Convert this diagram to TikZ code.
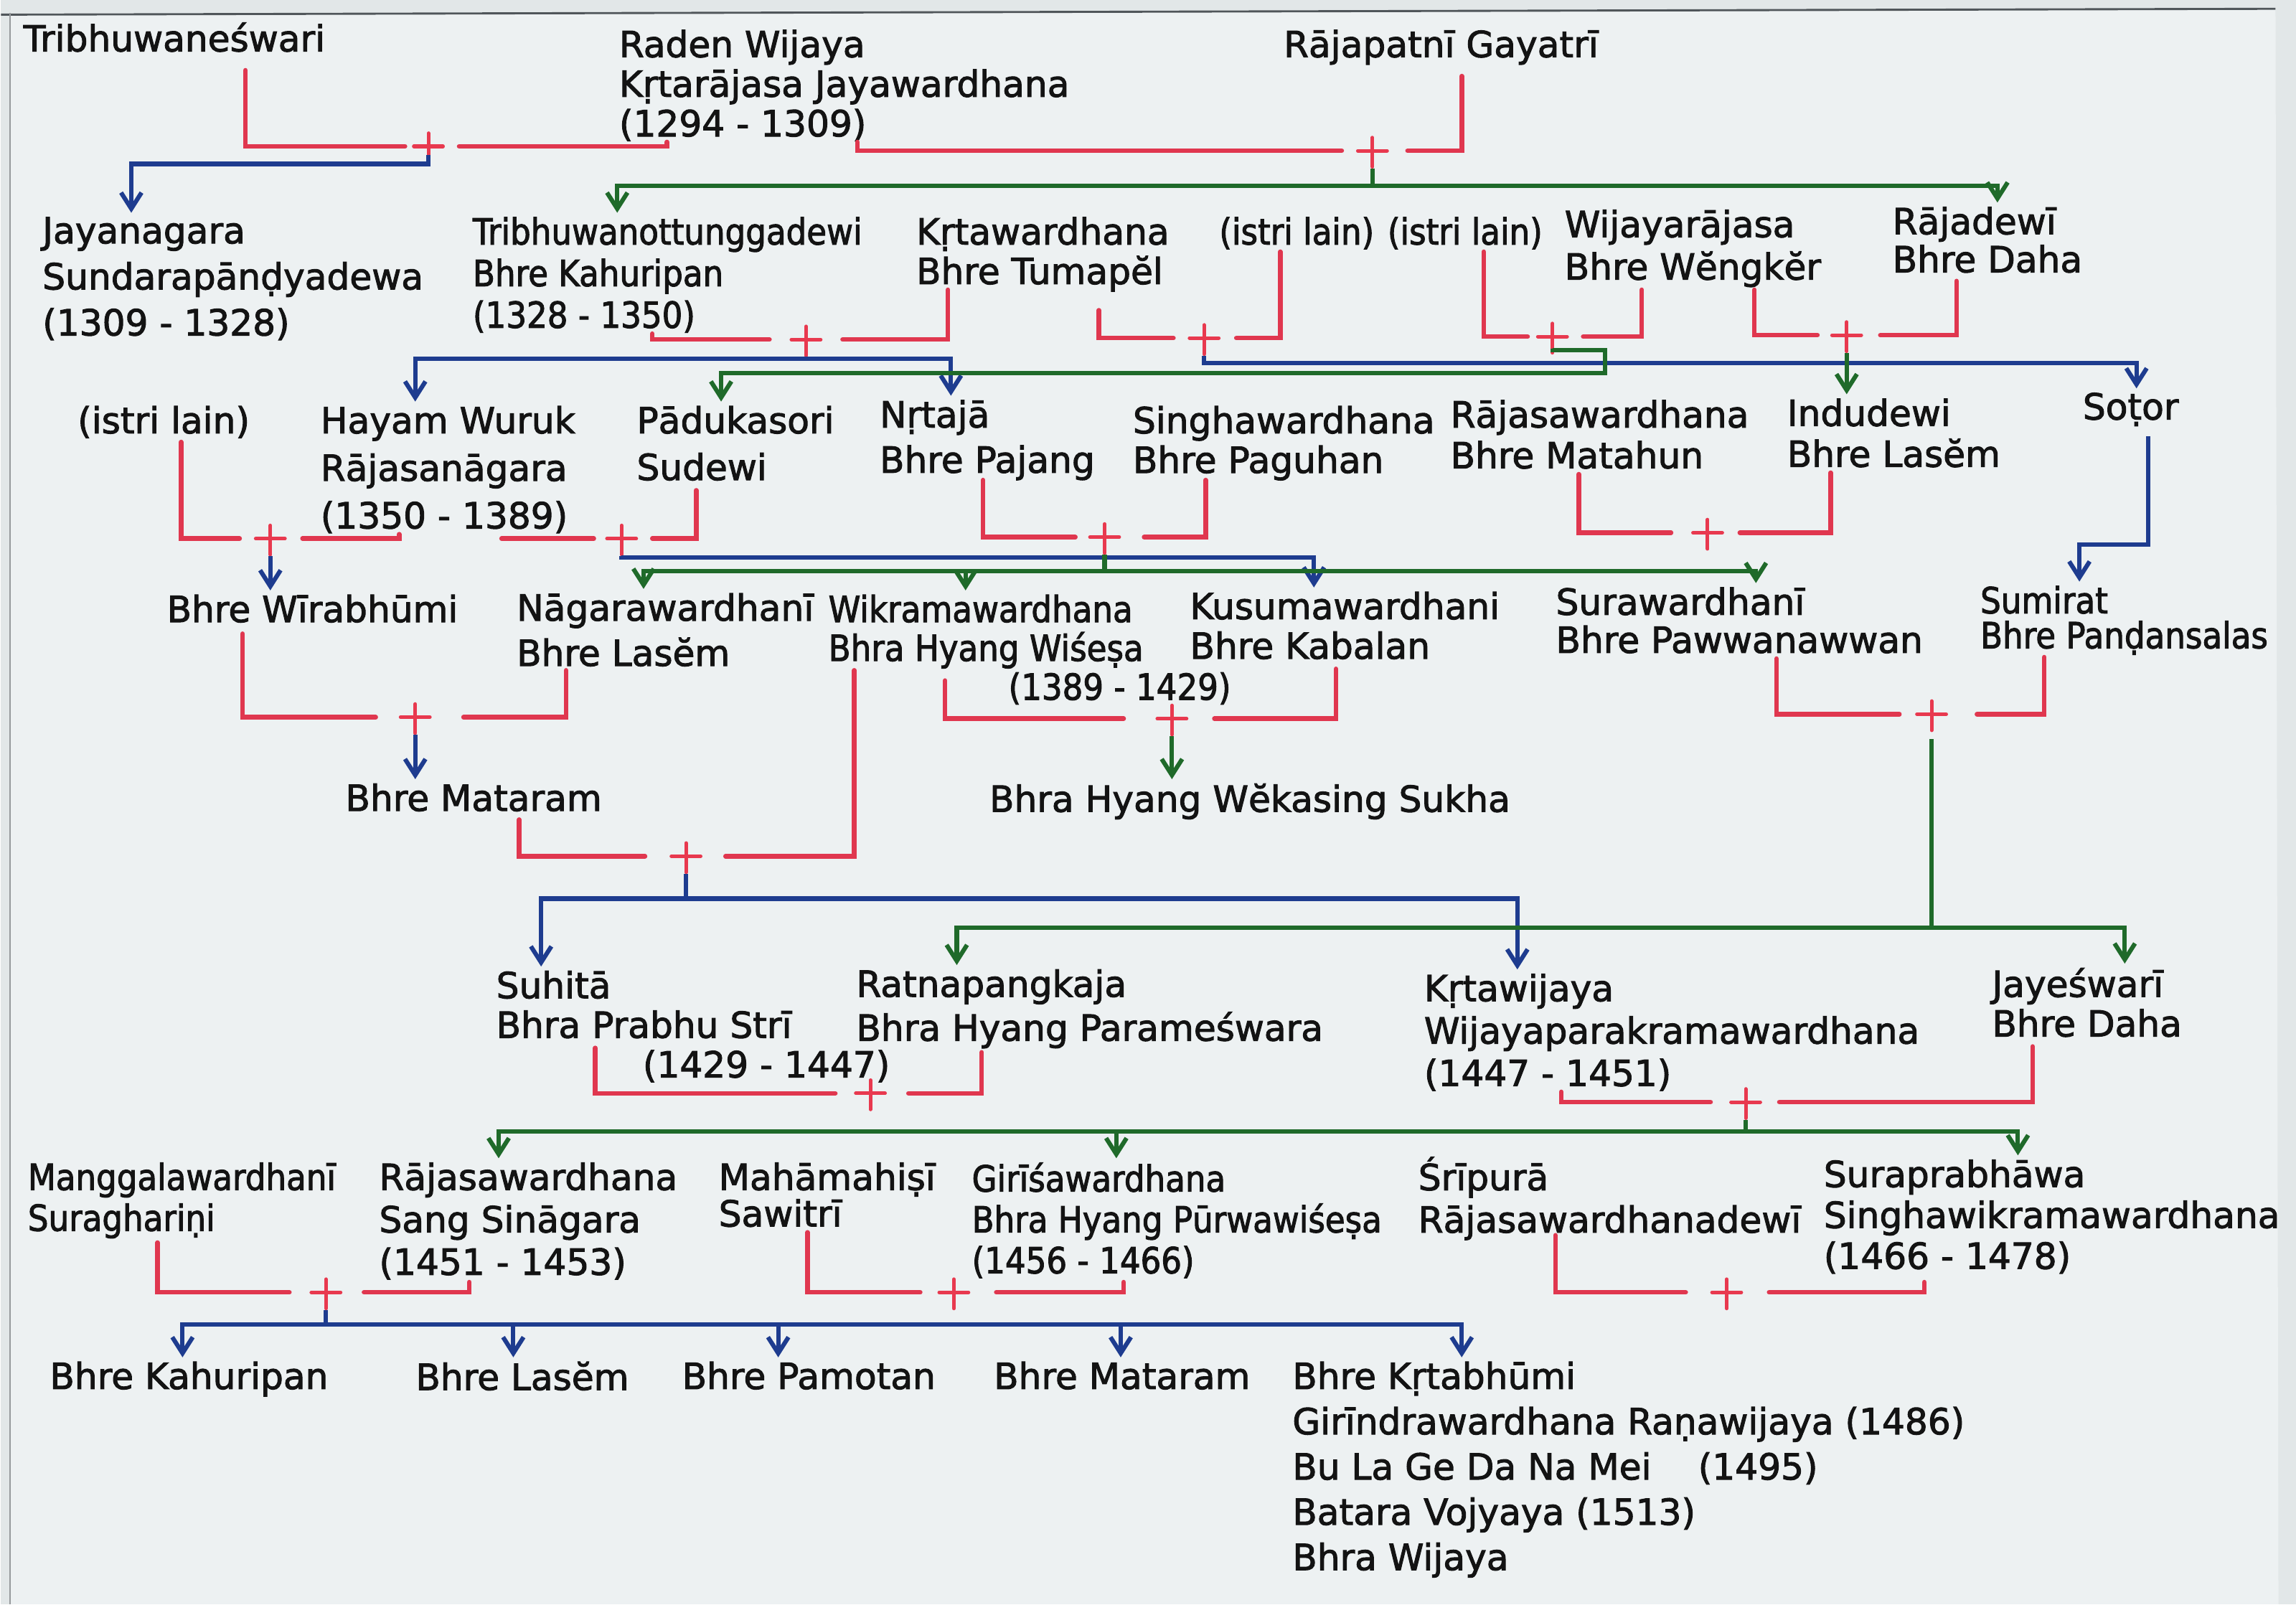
\documentclass[tikz,border=0pt]{standalone}
\usepackage{fontspec}
\setmainfont{DejaVu Sans}
\newfontfamily\pfont{DejaVu Sans}[FakeBold=2]
\newfontfamily\nfont{DejaVu Sans}[FakeStretch=0.9,FakeBold=2]
\usetikzlibrary{arrows.meta}
\definecolor{mred}{HTML}{E0374F}
\definecolor{mplus}{HTML}{E8394F}
\definecolor{mblue}{HTML}{1E3C8F}
\definecolor{mgreen}{HTML}{1F6A2A}
\definecolor{ink}{HTML}{131313}
\definecolor{paper}{HTML}{EDF1F2}
\definecolor{outside}{HTML}{E2E7E8}
\definecolor{edge}{HTML}{50565A}
\tikzset{
  person/.style={anchor=north west, inner sep=0pt, align=left, text=ink,
    font=\pfont\fontsize{14}{16.5}\selectfont},
  sk/.style={font=\pfont\fontsize{14}{#1}\selectfont},
  nsk/.style={font=\nfont\fontsize{14}{#1}\selectfont},
  marr/.style={draw=mred, line width=1.8pt, line cap=round},
  pluspen/.style={draw=mplus, line width=1.4pt, line cap=round},
  blu/.style={draw=mblue, line width=1.7pt, -{Straight Barb[length=2.2mm,width=2.8mm]}, shorten >=1.5pt},
  grn/.style={draw=mgreen, line width=1.7pt, -{Straight Barb[length=2.2mm,width=2.8mm]}, shorten >=1.5pt},
  plussign/.pic={\draw[pluspen] (-10,0) -- (10,0) (0,-9) -- (0,11);}
}
% #1 name, #2 left x, #3 left top, #4 left end, #5 plus x, #6 right start, #7 right x, #8 right top, #9 y
\newcommand\mrg[9]{%
  \coordinate (#1) at (#5,#9);
  \draw[marr] (#2,#3) |- (#4,#9);
  \draw[marr] (#6,#9) -| (#7,#8);
  \pic at (#1) {plussign};
}
\begin{document}
\begin{tikzpicture}[x=0.02cm,y=-0.02cm]
\fill[outside] (0,0) rectangle (1568,1096);
\fill[paper] (6,9) -- (1554,6) -- (1556,1096) -- (6,1096) -- cycle;
\draw[edge, line width=0.8pt] (0,10) -- (1554,6);
\draw[edge!60, line width=0.5pt] (6,9) -- (6,1096);
\path[use as bounding box] (0,0) rectangle (1568,1096);

% ---------- generation 0
\node[person] (tribw) at (15,15) {Tribhuwaneśwari};
\node[person, sk=15.4] (raden) at (422,20) {Raden Wijaya\\Kṛtarājasa Jayawardhana\\(1294 - 1309)};
\node[person] (gayatri) at (876,20) {Rājapatnī Gayatrī};

% ---------- generation 1
\node[person, sk=17.9] (jaya) at (28,148) {Jayanagara\\Sundarapānḍyadewa\\(1309 - 1328)};
\node[person, nsk=16.2] (tribt) at (322,148) {Tribhuwanottunggadewi\\Bhre Kahuripan\\(1328 - 1350)};
\node[person, sk=15.4] (krtaw) at (625,148) {Kṛtawardhana\\Bhre Tumapĕl};
\node[person, nsk=15] (il1) at (832,148) {(istri lain)};
\node[person, nsk=15] (il2) at (947,148) {(istri lain)};
\node[person, sk=16.5] (wijr) at (1068,143) {Wijayarājasa\\Bhre Wĕngkĕr};
\node[person, sk=14.8] (rajad) at (1292,141) {Rājadewī\\Bhre Daha};

% ---------- generation 2
\node[person] (il3) at (52,277) {(istri lain)};
\node[person, sk=18.5] (hayam) at (218,277) {Hayam Wuruk\\Rājasanāgara\\(1350 - 1389)};
\node[person, sk=18.2] (paduk) at (434,277) {Pādukasori\\Sudewi};
\node[person, sk=17.6] (nrtaja) at (600,273) {Nṛtajā\\Bhre Pajang};
\node[person, sk=15.4] (singh) at (773,277) {Singhawardhana\\Bhre Paguhan};
\node[person, sk=15.9] (rajasw) at (990,273) {Rājasawardhana\\Bhre Matahun};
\node[person, sk=15.9] (indu) at (1220,272) {Indudewi\\Bhre Lasĕm};
\node[person] (sotor) at (1422,268) {Soṭor};

% ---------- generation 3
\node[person] (wira) at (113,406) {Bhre Wīrabhūmi};
\node[person, sk=17.6] (nagara) at (352,405) {Nāgarawardhanī\\Bhre Lasĕm};
\node[person, nsk=15.1] (wikr) at (565,406) {Wikramawardhana\\Bhra Hyang Wiśeṣa\\\hspace*{70pt}(1389 - 1429)};
\node[person, sk=15.4] (kusuma) at (812,404) {Kusumawardhani\\Bhre Kabalan};
\node[person, sk=14.8] (surawd) at (1062,401) {Surawardhanī\\Bhre Pawwanawwan};
\node[person, nsk=13.6] (sumirat) at (1352,400) {Sumirat\\Bhre Panḍansalas};

\node[person] (mataram1) at (235,535) {Bhre Mataram};
\node[person] (wekas) at (675,535) {Bhra Hyang Wĕkasing Sukha};

% ---------- generation 4
\node[person, sk=15.4] (suhita) at (338,663) {Suhitā\\Bhra Prabhu Strī\\\hspace*{57pt}(1429 - 1447)};
\node[person, sk=17.1] (ratna) at (584,662) {Ratnapangkaja\\Bhra Hyang Parameśwara};
\node[person, sk=16.5] (krtawij) at (972,665) {Kṛtawijaya\\Wijayaparakramawardhana\\(1447 - 1451)};
\node[person, sk=15.4] (jayesw) at (1360,661) {Jayeśwarī\\Bhre Daha};

% ---------- generation 5
\node[person, nsk=15.9] (mangg) at (18,794) {Manggalawardhanī\\Suraghariṇi};
\node[person, sk=16.5] (rajsang) at (258,794) {Rājasawardhana\\Sang Sināgara\\(1451 - 1453)};
\node[person, sk=14.2] (mahamah) at (490,794) {Mahāmahiṣī\\Sawitrī};
\node[person, nsk=15.9] (giri) at (663,794) {Girīśawardhana\\Bhra Hyang Pūrwawiśeṣa\\(1456 - 1466)};
\node[person, sk=16.5] (sripura) at (968,790) {Śrīpurā\\Rājasawardhanadewī};
\node[person, sk=15.9] (surapr) at (1245,792) {Suraprabhāwa\\Singhawikramawardhana\\(1466 - 1478)};

% ---------- generation 6
\node[person] (kahur2) at (33,930) {Bhre Kahuripan};
\node[person] (lasem2) at (283,930) {Bhre Lasĕm};
\node[person] (pamotan) at (465,930) {Bhre Pamotan};
\node[person] (mataram2) at (678,930) {Bhre Mataram};
\node[person, sk=17.6] (krtabh) at (882,930) {Bhre Kṛtabhūmi\\Girīndrawardhana Raṇawijaya (1486)\\Bu La Ge Da Na Mei\hspace{1.3em}(1495)\\Batara Vojyaya (1513)\\Bhra Wijaya};

% ---------- marriages
\mrg{m1}{167}{48}{276}{292}{313}{455}{97}{100}
\mrg{m2}{585}{97}{916}{937}{961}{998}{52}{103}
\mrg{m3}{445}{228}{525}{550}{575}{647}{198}{232}
\mrg{m4}{750}{212}{801}{822}{844}{874}{172}{231}
\mrg{m5}{1013}{172}{1043}{1060}{1081}{1121}{198}{230}
\mrg{m6}{1198}{198}{1241}{1261}{1284}{1336}{192}{229}
\mrg{m7}{123}{302}{163}{184}{206}{272}{365}{368}
\mrg{m8}{342}{368}{405}{424}{445}{475}{335}{368}
\mrg{m9}{671}{328}{734}{754}{781}{823}{328}{367}
\mrg{m10}{1078}{324}{1141}{1166}{1188}{1250}{323}{364}
\mrg{m11}{165}{433}{256}{283}{316}{386}{458}{490}
\mrg{m12}{645}{465}{767}{800}{829}{912}{457}{491}
\mrg{m13}{354}{560}{440}{468}{495}{583}{458}{585}
\mrg{m14}{1213}{450}{1297}{1319}{1350}{1396}{449}{488}
\mrg{m15}{406}{716}{570}{594}{620}{670}{719}{747}
\mrg{m16}{1066}{746}{1168}{1192}{1215}{1388}{715}{753}
\mrg{m17}{107}{849}{197}{222}{248}{320}{876}{883}
\mrg{m18}{551}{842}{628}{651}{680}{767}{876}{883}
\mrg{m19}{1062}{844}{1151}{1179}{1208}{1314}{876}{883}

% ---------- descent lines
\draw[blu] (m1) ++(0,6) |- (89,112) -- (89,0 |- jaya.north);
\draw[grn] (m2) ++(0,12) |- (421,127) -- (421,0 |- tribt.north);
\draw[grn] (m2) ++(0,12) |- (1364,127) -- (1364,0 |- rajad.north);
\draw[blu] (m3) ++(0,12) |- (283,245) -- (283,0 |- hayam.north);
\draw[blu] (m3) ++(0,12) |- (649,245) -- (649,0 |- nrtaja.north);
\draw[blu] (m4) ++(0,12) |- (1459,248) -- (1459,0 |- sotor.north);
\draw[grn] (m5) ++(0,8) |- (1096,239) |- (492,255) -- (492,0 |- paduk.north);
\draw[grn] (m6) ++(0,12) -- (1261,0 |- indu.north);
\draw[blu] (m7) ++(0,12) -- (184,0 |- wira.north);
\draw[blu] (m8) ++(0,12) |- (897,381) -- (897,0 |- kusuma.north);
\draw[grn] (m9) ++(0,12) |- (439,390) -- (439,0 |- nagara.north);
\draw[grn] (m9) ++(0,12) |- (1199,390) -- (1199,0 |- surawd.north);
\draw[grn] (659,390) -- (659,0 |- wikr.north);
\draw[blu] (1467,298) |- (1420,372) -- (1420,0 |- sumirat.north);
\draw[blu] (m11) ++(0,12) -- (283,0 |- mataram1.north);
\draw[grn] (m12) ++(0,12) -- (800,0 |- wekas.north);
\draw[blu] (m13) ++(0,12) |- (369,614) -- (369,0 |- suhita.north);
\draw[blu] (m13) ++(0,12) |- (1036,614) -- (1036,0 |- krtawij.north);
\draw[grn] (m14) ++(0,17) |- (653,634) -- (653,0 |- ratna.north);
\draw[grn] (m14) ++(0,17) |- (1451,634) -- (1451,0 |- jayesw.north);
\draw[grn] (m16) ++(0,12) |- (340,773) -- (340,0 |- rajsang.north);
\draw[grn] (m16) ++(0,12) |- (1378,773) -- (1378,0 |- surapr.north);
\draw[grn] (762,773) -- (762,0 |- giri.north);
\draw[blu] (m17) ++(0,12) |- (124,905) -- (124,0 |- kahur2.north);
\draw[blu] (m17) ++(0,12) |- (998,905) -- (998,0 |- krtabh.north);
\draw[blu] (350,905) -- (350,0 |- lasem2.north);
\draw[blu] (531,905) -- (531,0 |- pamotan.north);
\draw[blu] (765,905) -- (765,0 |- mataram2.north);
\end{tikzpicture}
\end{document}
